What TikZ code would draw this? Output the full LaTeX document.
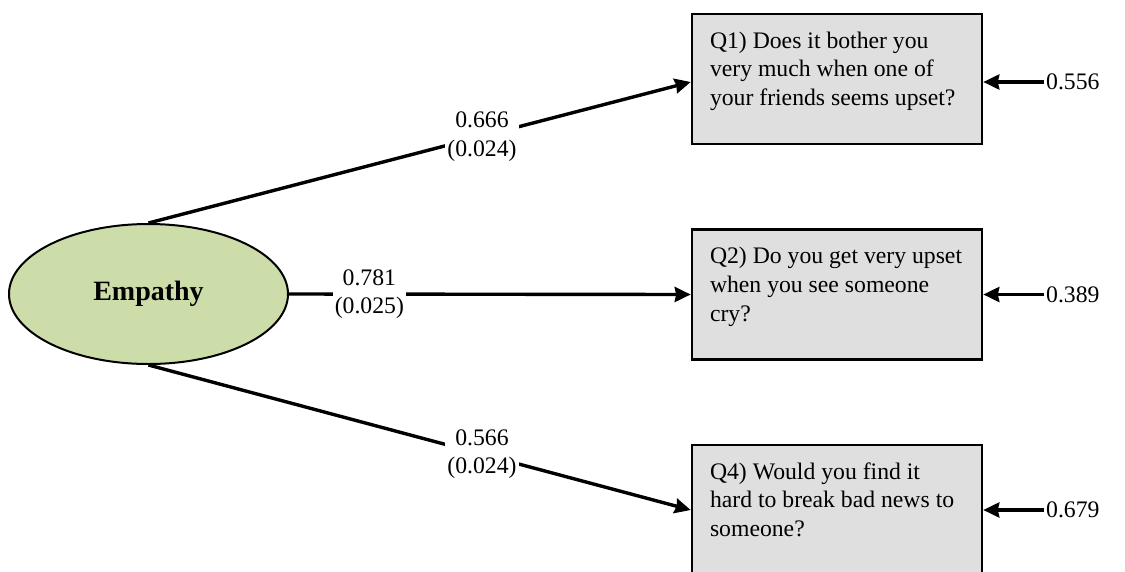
\documentclass[tikz,border=0pt]{standalone}
\usepackage{fontspec}
\setmainfont{Liberation Serif}
\usetikzlibrary{arrows.meta,shapes.geometric}
\definecolor{latentfill}{RGB}{205,221,170}
\definecolor{itemfill}{RGB}{223,223,223}
\newcommand\qtext[1]{\parbox[t][130pt][t]{254pt}{\raggedright\rule{0pt}{34pt}#1}}
\tikzset{
  latent/.style={ellipse, draw, line width=2pt, fill=latentfill,
    minimum width=279pt, minimum height=140pt, inner sep=0pt,
    font=\fontsize{28}{32}\selectfont\bfseries},
  itembox/.style={rectangle, draw, line width=2.6pt, fill=itemfill,
    inner xsep=18pt, inner ysep=0pt, font=\fontsize{23.7}{28.8}\selectfont},
  pathline/.style={line width=3.4pt, -{Stealth[length=16pt,width=15pt,inset=1.5pt]}},
  coef/.style={fill=white, inner sep=2pt, align=center,
    font=\fontsize{23.7}{28.8}\selectfont},
  resid/.style={anchor=west, inner sep=2pt, font=\fontsize{23.7}{28.8}\selectfont},
}
\begin{document}
\begin{tikzpicture}[x=1pt,y=-1pt]
\useasboundingbox (0,0) rectangle (1125,571);
\clip (0,0) rectangle (1125,571);

\node[latent] (emp) at (148.5,294) {Empathy};

\node[itembox] (q1) at (837,79) {\qtext{Q1) Does it bother you\\very much when one of\\your friends seems upset?}};
\node[itembox] (q2) at (837,294.5) {\qtext{Q2) Do you get very upset\\when you see someone\\cry?}};
\node[itembox] (q4) at (837,510) {\qtext{Q4) Would you find it\\hard to break bad news to\\someone?}};

\draw[pathline] (emp.north) -- node[coef,pos=0.615] (l1) {0.666\\(0.024)} ([yshift=-3pt]q1.west);
\draw[pathline] (emp.east) -- node[coef,pos=0.2] (l2) {0.781\\(0.025)} (q2.west);
\draw[pathline] (emp.south) -- node[coef,pos=0.615] (l4) {0.566\\(0.024)} (q4.west);

\node[resid] (e1) at (1044,82) {0.556};
\node[resid] (e2) at (1044,294.5) {0.389};
\node[resid] (e4) at (1044,510) {0.679};

\draw[pathline] (e1.west) -- ([yshift=-3pt]q1.east);
\draw[pathline] (e2.west) -- (q2.east);
\draw[pathline] (e4.west) -- (q4.east);
\end{tikzpicture}
\end{document}
